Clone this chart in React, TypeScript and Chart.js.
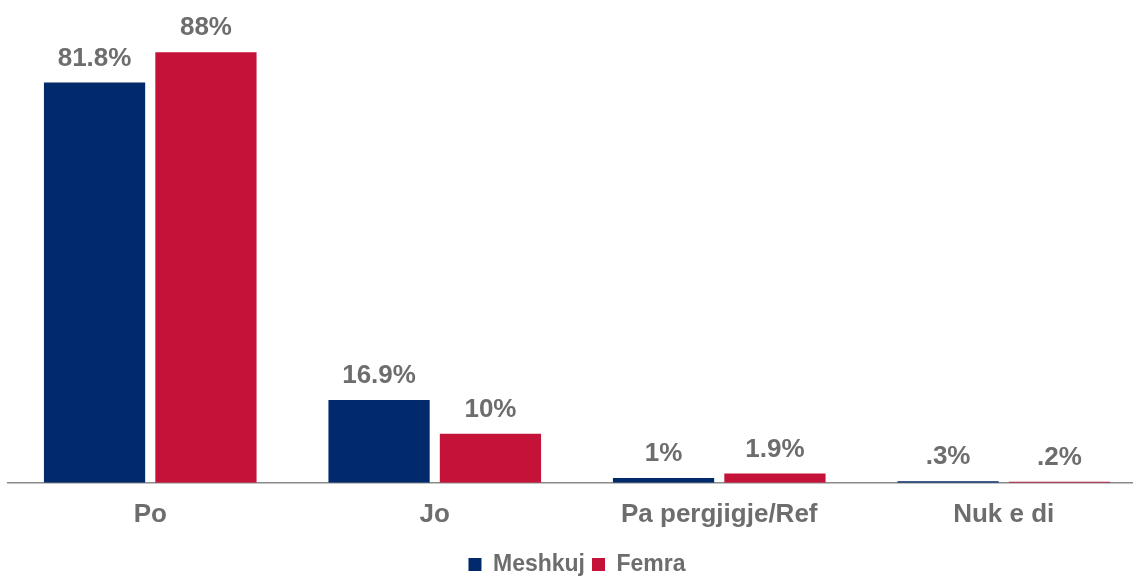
import React, { useEffect, useRef } from "react";
import { Chart, registerables } from "chart.js";

Chart.register(...registerables);

const categories = ["Po", "Jo", "Pa pergjigje/Ref", "Nuk e di"];
const seriesNames = ["Meshkuj", "Femra"];
const meshkuj = [81.8, 16.9, 1, 0.3];
const femra = [88, 10, 1.9, 0.2];

const NAVY = "#002A6C";
const RED = "#C41239";
const TEXT = "#6d6d6d";
const FONT = '"Liberation Sans", Arial, sans-serif';

const fmt = (v: number) => String(v).replace(/^0\./, ".") + "%";

const valueLabels = {
  id: "valueLabels",
  afterDatasetsDraw(chart: any) {
    const ctx = chart.ctx;
    ctx.save();
    ctx.font = `bold 26px ${FONT}`;
    ctx.fillStyle = TEXT;
    ctx.textAlign = "center";
    ctx.textBaseline = "alphabetic";
    chart.data.datasets.forEach((ds: any, i: number) => {
      const meta = chart.getDatasetMeta(i);
      meta.data.forEach((bar: any, j: number) => {
        ctx.fillText(fmt(ds.data[j]), bar.x, bar.y - 17);
      });
    });
    ctx.restore();
  },
};

export default function App() {
  const ref = useRef<HTMLCanvasElement | null>(null);
  useEffect(() => {
    if (!ref.current) return;
    const chart = new Chart(ref.current, {
      type: "bar",
      data: {
        labels: categories,
        datasets: [
          { label: seriesNames[0], data: meshkuj, backgroundColor: NAVY },
          { label: seriesNames[1], data: femra, backgroundColor: RED },
        ],
      },
      options: {
        animation: false,
        responsive: false,
        layout: { padding: { left: 8, top: 18, right: 0, bottom: -9 } },
        datasets: {
          bar: { categoryPercentage: 0.783, barPercentage: 0.909 },
        },
        scales: {
          x: {
            grid: { display: false, drawTicks: false },
            border: { display: true, color: "#8a8a8a", width: 1.5 },
            ticks: {
              color: TEXT,
              font: { family: FONT, size: 26, weight: "bold" },
              padding: 16,
            },
          },
          y: { display: false, min: 0, max: 95 },
        },
        plugins: {
          legend: {
            position: "bottom",
            labels: {
              color: TEXT,
              font: { family: FONT, size: 23, weight: "bold" },
              boxWidth: 13,
              boxHeight: 13,
              padding: 7,
            },
          },
          tooltip: { enabled: false },
        },
      },
      plugins: [valueLabels],
    } as any);
    return () => chart.destroy();
  }, []);
  return (
    <div
      style={{
        position: "absolute",
        left: 0,
        top: 0,
        width: 1133,
        height: 577,
        overflow: "hidden",
        background: "#fff",
      }}
    >
      <canvas ref={ref} width={1146} height={577} style={{ display: "block" }} />
    </div>
  );
}
